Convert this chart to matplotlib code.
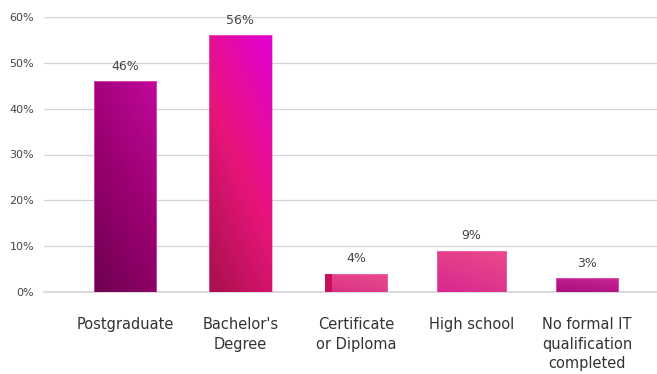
import numpy as np
import matplotlib
matplotlib.use("Agg")
import matplotlib.pyplot as plt
from matplotlib.colors import LinearSegmentedColormap
from matplotlib.patches import Rectangle

categories = ["Postgraduate", "Bachelor's\nDegree", "Certificate\nor Diploma", "High school", "No formal IT\nqualification\ncompleted"]
values = [46, 56, 4, 9, 3]
ytick_vals = [0, 10, 20, 30, 40, 50, 60]
bar_widths = [0.54, 0.54, 0.54, 0.60, 0.54]

# gradient colours (bottom-left -> top-right)
grads = [
    ["#6e0050", "#9a0070", "#c0089c"],
    ["#a8104c", "#e8157a", "#e200d4"],
    ["#d8307e", "#e2408a", "#ea4a8c"],
    ["#d82890", "#e03a8c", "#ea4a8a"],
    ["#a8107c", "#b81a88", "#c8288e"],
]

plt.rcParams['font.family'] = ['DejaVu Sans']
fig = plt.figure(figsize=(6.57, 3.74), dpi=100)
ax = fig.add_axes([44/657, 1-292/374, 1-44/657, (292-17)/374])

x = np.arange(len(categories))
bars = ax.bar(x, values, width=bar_widths, color='none', edgecolor='none', zorder=3)

for i, (b, g) in enumerate(zip(bars, grads)):
    cmap = LinearSegmentedColormap.from_list('g', g)
    xx, yy = np.meshgrid(np.linspace(0, 1, 50), np.linspace(0, 1, 50))
    z = (xx * 0.35 + yy * 0.65)
    x0, y0 = b.get_x(), b.get_y()
    w, h = b.get_width(), b.get_height()
    im = ax.imshow(z, cmap=cmap, origin='lower', extent=[x0, x0 + w, y0, y0 + h],
                   aspect='auto', zorder=3, interpolation='bicubic')
    im.set_clip_path(b)
    ax.add_patch(Rectangle((x0, y0), w, h, fill=False, edgecolor='#f070c0',
                           linewidth=0.6, alpha=0.7, zorder=3.5))
    if i == 2:
        ax.add_patch(Rectangle((x0, y0), w * 0.11, h, color='#c8105a', zorder=3.6, linewidth=0))

for xi, v in zip(x, values):
    ax.annotate(f"{v}%", (xi, v), xytext=(0, 6), textcoords='offset points',
                ha='center', va='bottom', fontsize=9, color='#444444', zorder=4)

ax.set_xlim(-0.70, 4.606)
ax.set_ylim(0, 60)
ax.set_yticks(ytick_vals)
ax.set_yticklabels([f"{t}%" for t in ytick_vals])
ax.set_xticks(x)
ax.set_xticklabels(categories, linespacing=1.38)
ax.tick_params(axis='y', length=0, pad=7, labelsize=8, labelcolor='#444444')
ax.tick_params(axis='x', length=0, pad=18, labelsize=10.5, labelcolor='#333333')
ax.yaxis.grid(True, color='#d4d2dc', linewidth=0.9, zorder=0)
ax.set_axisbelow(True)
for s in ['top', 'right', 'left']:
    ax.spines[s].set_visible(False)
ax.spines['bottom'].set_color('#d4d2dc')
ax.spines['bottom'].set_linewidth(1.2)

fig.savefig("out.png", dpi=100)
